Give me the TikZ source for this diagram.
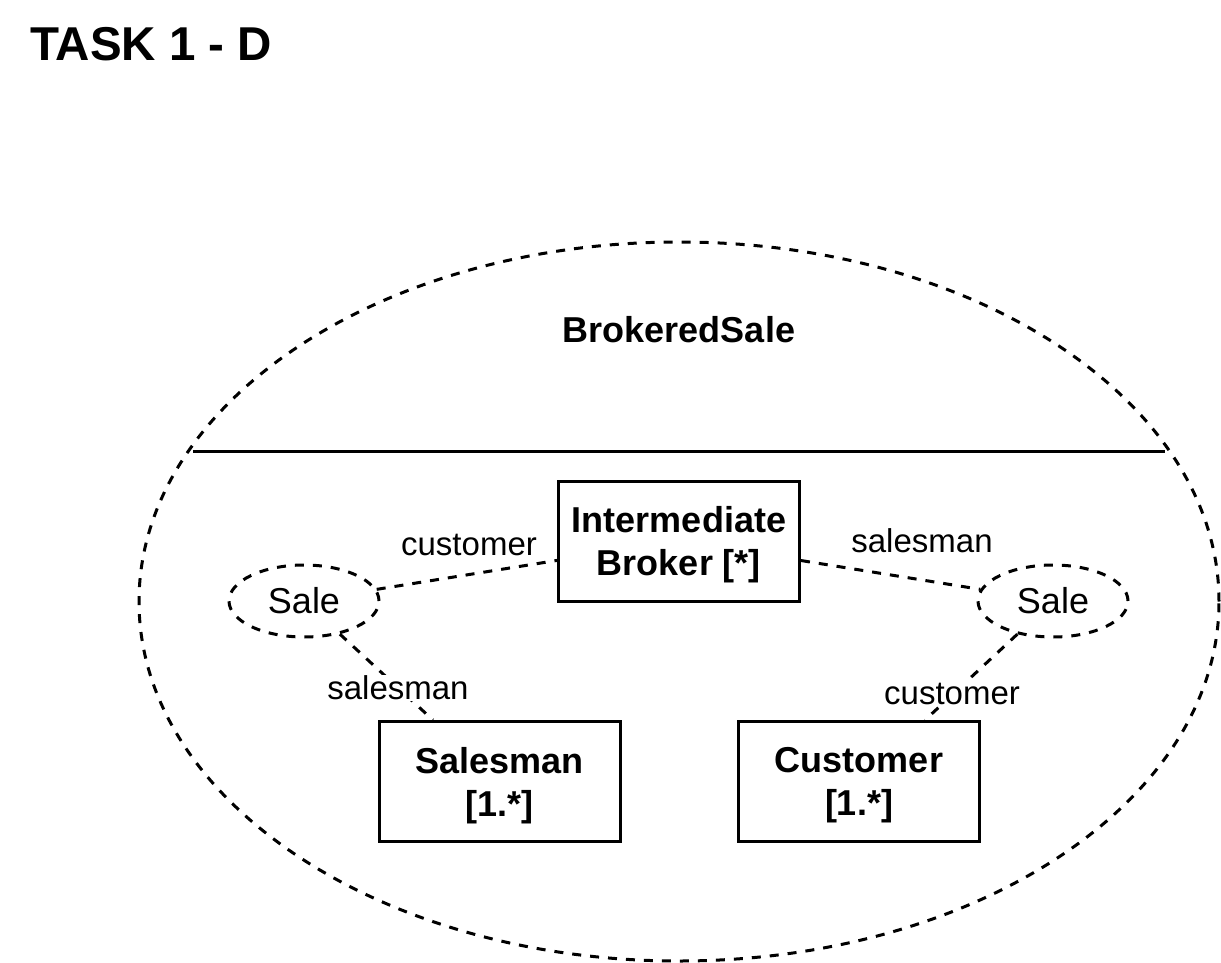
\documentclass[tikz,border=0pt]{standalone}
\usepackage{fontspec}
\setmainfont{Liberation Sans}
\usetikzlibrary{shapes.geometric}
\begin{document}
\begin{tikzpicture}[x=1pt,y=-1pt,
  dashln/.style={line width=3pt, dash pattern=on 9pt off 9pt},
  boxnode/.style={draw, line width=3pt, rectangle, minimum width=241pt, minimum height=120pt,
    inner sep=0pt, align=center, font=\fontsize{36}{43}\selectfont\bfseries, text depth=0pt},
  salenode/.style={draw, dashln, ellipse, minimum width=150pt, minimum height=72pt,
    inner sep=0pt, font=\fontsize{36}{43}\selectfont},
  lbl/.style={fill=white, inner sep=1pt, font=\fontsize{33}{40}\selectfont},
]
\useasboundingbox (0,0) rectangle (1221,963);

% title
\node[anchor=base west, inner sep=0pt, font=\fontsize{47.5}{52}\selectfont\bfseries] (title) at (30,61) {TASK 1 - D};

% big composite ellipse
\node[draw, dashln, ellipse, minimum width=1080pt, minimum height=719pt, inner sep=0pt] (outer) at (679,601.5) {};
\node[anchor=base, inner sep=0pt, font=\fontsize{36}{43}\selectfont\bfseries] (bs) at (679,342) {BrokeredSale};
\coordinate (la) at (193,451);
\coordinate (lb) at (1165,451);
\draw[line width=3pt] (la) -- (lb);

% parts
\node[boxnode] (ib) at (679,541) {Intermediate\\Broker [*]};
\node[boxnode] (sm) at (499.5,781.5) {Salesman\\{[1.*]}};
\node[boxnode] (cu) at (859,781.5) {Customer\\{[1.*]}};
\node[salenode] (sl) at (304,601) {Sale};
\node[salenode] (sr) at (1053,601) {Sale};

% connectors
\draw[dashln] (sl) -- (ib);
\draw[dashln] (ib) -- (sr);
\draw[dashln] (sl) -- (sm);
\draw[dashln] (sr) -- (cu);

% role labels
\node[lbl] (l1) at (469,545) {customer};
\node[lbl] (l2) at (922,541) {salesman};
\node[lbl] (l3) at (398,688) {salesman};
\node[lbl] (l4) at (952,694) {customer};
\end{tikzpicture}
\end{document}
